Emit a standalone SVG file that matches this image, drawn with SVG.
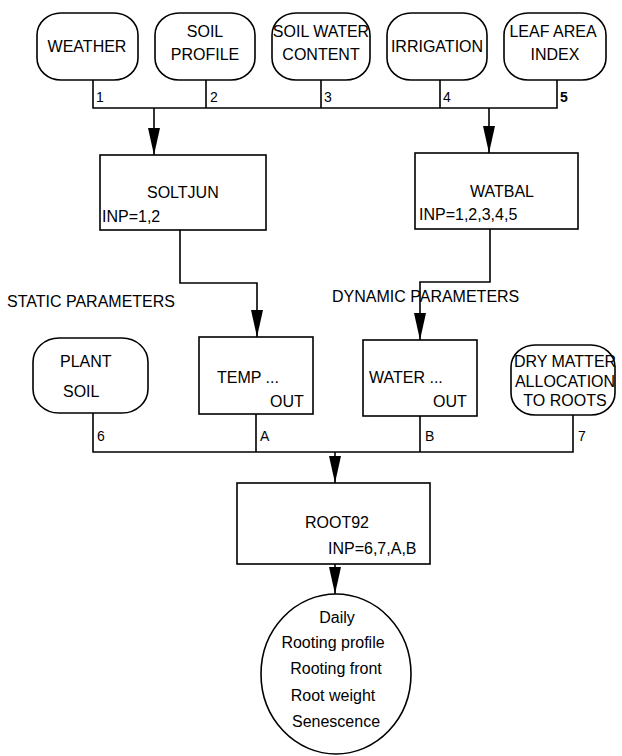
<svg xmlns="http://www.w3.org/2000/svg" width="622" height="756" viewBox="0 0 622 756">
<style>
.n{fill:#fff;stroke:#000;stroke-width:1.6}
.t{font-family:"Liberation Sans",Arial,sans-serif;font-size:16px;fill:#000}
.c{text-anchor:middle}
.s{font-size:14px}
.l{fill:none;stroke:#000;stroke-width:1.6}
</style>
<defs>
<marker id="ah" markerUnits="userSpaceOnUse" viewBox="0 -6 27 12" markerWidth="27" markerHeight="12" refX="27" refY="0" orient="auto">
<path d="M0,-6 L27,0 L0,6 z" fill="#000"/>
</marker>
</defs>
<rect width="622" height="756" fill="#fff"/>
<g id="connectors">
<path class="l" d="M93,80 V108 H557 V80 M206,80 V108 M321,80 V108 M440,80 V108"/>
<path class="l" d="M154,108 V155" marker-end="url(#ah)"/>
<path class="l" d="M489,108 V153" marker-end="url(#ah)"/>
<path class="l" d="M180,230 V283 H257 V337" marker-end="url(#ah)"/>
<path class="l" d="M490,229 V282 H420 V340" marker-end="url(#ah)"/>
<path class="l" d="M93,413 V452 H573 V415 M256,414 V452 M420,416 V452"/>
<path class="l" d="M335,452 V483" marker-end="url(#ah)"/>
<path class="l" d="M335,564 V594" marker-end="url(#ah)"/>
<text class="t s" x="96" y="102">1</text>
<text class="t s" x="210" y="102">2</text>
<text class="t s" x="324" y="102">3</text>
<text class="t s" x="443" y="102">4</text>
<text class="t s" x="560" y="102" font-weight="bold">5</text>
<text class="t s" x="97" y="441">6</text>
<text class="t s" x="260" y="441">A</text>
<text class="t s" x="425" y="441">B</text>
<text class="t s" x="578" y="441">7</text>
</g>
<g id="weather">
<rect class="n" x="37" y="13" width="101" height="67" rx="24" ry="22"/>
<text class="t c" x="87" y="52">WEATHER</text>
</g>
<g id="soil-profile">
<rect class="n" x="155" y="13" width="100" height="67" rx="24" ry="22"/>
<text class="t c" x="205" y="37">SOIL</text>
<text class="t c" x="205" y="60">PROFILE</text>
</g>
<g id="soil-water">
<rect class="n" x="272" y="13" width="98" height="67" rx="24" ry="22"/>
<text class="t c" x="321" y="37">SOIL WATER</text>
<text class="t c" x="321" y="60">CONTENT</text>
</g>
<g id="irrigation">
<rect class="n" x="387" y="13" width="100" height="67" rx="24" ry="22"/>
<text class="t c" x="437" y="52">IRRIGATION</text>
</g>
<g id="lai">
<rect class="n" x="504" y="13" width="102" height="67" rx="24" ry="22"/>
<text class="t c" x="553" y="37">LEAF AREA</text>
<text class="t c" x="555" y="60">INDEX</text>
</g>
<g id="soltjun">
<rect class="n" x="100" y="155" width="166" height="75"/>
<text class="t" x="147" y="198">SOLTJUN</text>
<text class="t" x="102" y="222">INP=1,2</text>
</g>
<g id="watbal">
<rect class="n" x="415" y="153" width="163" height="76"/>
<text class="t" x="470" y="197">WATBAL</text>
<text class="t" x="419" y="220">INP=1,2,3,4,5</text>
</g>
<text class="t" x="7" y="307">STATIC PARAMETERS</text>
<text class="t" x="332" y="302">DYNAMIC PARAMETERS</text>
<g id="plant-soil">
<rect class="n" x="33" y="338" width="115" height="75" rx="26" ry="24"/>
<text class="t" x="60" y="367">PLANT</text>
<text class="t" x="63" y="397">SOIL</text>
</g>
<g id="temp">
<rect class="n" x="199" y="337" width="114" height="77"/>
<text class="t" x="217" y="383">TEMP ...</text>
<text class="t" x="270" y="407">OUT</text>
</g>
<g id="water">
<rect class="n" x="363" y="340" width="114" height="76"/>
<text class="t" x="369" y="383">WATER ...</text>
<text class="t" x="433" y="407">OUT</text>
</g>
<g id="dry-matter">
<rect class="n" x="511" y="345" width="104" height="70" rx="24" ry="22"/>
<text class="t c" x="565" y="367">DRY MATTER</text>
<text class="t c" x="565" y="387">ALLOCATION</text>
<text class="t c" x="565" y="406">TO ROOTS</text>
</g>
<g id="root92">
<rect class="n" x="237" y="483" width="193" height="81"/>
<text class="t" x="305" y="528">ROOT92</text>
<text class="t" x="328" y="554">INP=6,7,A,B</text>
</g>
<g id="output">
<ellipse class="n" cx="336" cy="674" rx="75" ry="80"/>
<text class="t c" x="337" y="623">Daily</text>
<text class="t c" x="333" y="648">Rooting profile</text>
<text class="t c" x="336" y="674">Rooting front</text>
<text class="t c" x="333" y="701">Root weight</text>
<text class="t c" x="336" y="727">Senescence</text>
</g>
</svg>
